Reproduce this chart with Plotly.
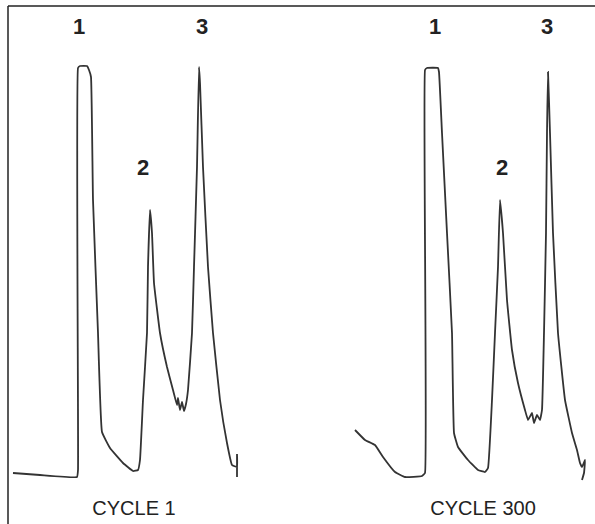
import plotly.graph_objects as go

# Chromatogram traces (arbitrary units: time -> x, detector response -> y, y grows downward)
cycle1_x = [13, 40, 77, 78, 78, 80, 87, 89, 91, 93, 98, 102, 110, 123, 133, 138,
            140, 143, 147, 148, 150, 152, 154, 160, 167, 173, 177, 178, 180, 182, 184, 186,
            188, 192, 194, 197, 199, 200, 203, 208, 213, 220, 227, 232, 237, 237, 237]
cycle1_y = [473, 475, 477, 470, 68, 66, 66, 70, 77, 200, 333, 432, 448, 463, 471, 470,
            460, 400, 333, 267, 210, 233, 283, 333, 367, 390, 405, 398, 410, 402, 411, 404,
            390, 333, 267, 167, 67, 83, 167, 267, 333, 400, 443, 465, 467, 454, 477]

cycle300_x = [355, 365, 375, 383, 395, 405, 422, 425, 425, 427, 438, 439, 442, 447, 452, 454,
              458, 468, 478, 485, 488, 492, 495, 498, 500, 503, 507, 512, 518, 525,
              528, 532, 534, 537, 540, 542, 544, 546, 547, 548, 550, 553, 558, 565, 572,
              577, 580, 582, 585, 584, 582]
cycle300_y = [430, 440, 445, 457, 472, 477, 476, 473, 70, 68, 68, 72, 133, 233, 333, 433,
              447, 460, 470, 472, 468, 400, 333, 267, 200, 233, 300, 350, 383, 410,
              420, 413, 423, 415, 420, 410, 333, 233, 133, 72, 133, 233, 333, 400, 433,
              450, 463, 467, 460, 473, 480]

peak_labels = ["1", "2", "3", "1", "2", "3"]
peak_label_x = [79, 143, 202, 435, 502, 547]
peak_label_y = [28, 169, 28, 28, 169, 28]

captions = ["CYCLE 1", "CYCLE 300"]
caption_x = [134, 483]
caption_y = [510, 510]

W, H = 595, 524
line_style = dict(color="#333333", width=1.8)

fig = go.Figure()
fig.add_trace(go.Scatter(x=cycle1_x, y=cycle1_y, mode="lines", line=line_style,
                         line_shape="spline", line_smoothing=0.3, hoverinfo="skip"))
fig.add_trace(go.Scatter(x=cycle300_x, y=cycle300_y, mode="lines", line=line_style,
                         line_shape="spline", line_smoothing=0.3, hoverinfo="skip"))

fig.add_trace(go.Scatter(x=peak_label_x, y=peak_label_y, mode="text", text=peak_labels,
                         textfont=dict(family="Liberation Sans, Arial, sans-serif",
                                       size=22, color="#222222", weight="bold"),
                         hoverinfo="skip"))
fig.add_trace(go.Scatter(x=caption_x, y=caption_y, mode="text", text=captions,
                         textfont=dict(family="Liberation Sans, Arial, sans-serif",
                                       size=20, color="#222222"),
                         hoverinfo="skip"))

# frame: top and left rules
fig.add_shape(type="line", xref="paper", yref="paper", x0=8 / W, x1=1, y0=1 - 6 / H, y1=1 - 6 / H,
              line=dict(color="#222222", width=1.5))
fig.add_shape(type="line", xref="paper", yref="paper", x0=8 / W, x1=8 / W, y0=0, y1=1 - 6 / H,
              line=dict(color="#222222", width=1.5))

fig.update_layout(
    width=W, height=H,
    margin=dict(l=0, r=0, t=0, b=0),
    paper_bgcolor="white", plot_bgcolor="white",
    showlegend=False,
    xaxis=dict(range=[0, W], visible=False, fixedrange=True),
    yaxis=dict(range=[H, 0], visible=False, fixedrange=True),
)

fig.write_html("out.html", config={"displayModeBar": False},
               post_script="document.body.style.margin='0';document.body.style.overflow='hidden';")
